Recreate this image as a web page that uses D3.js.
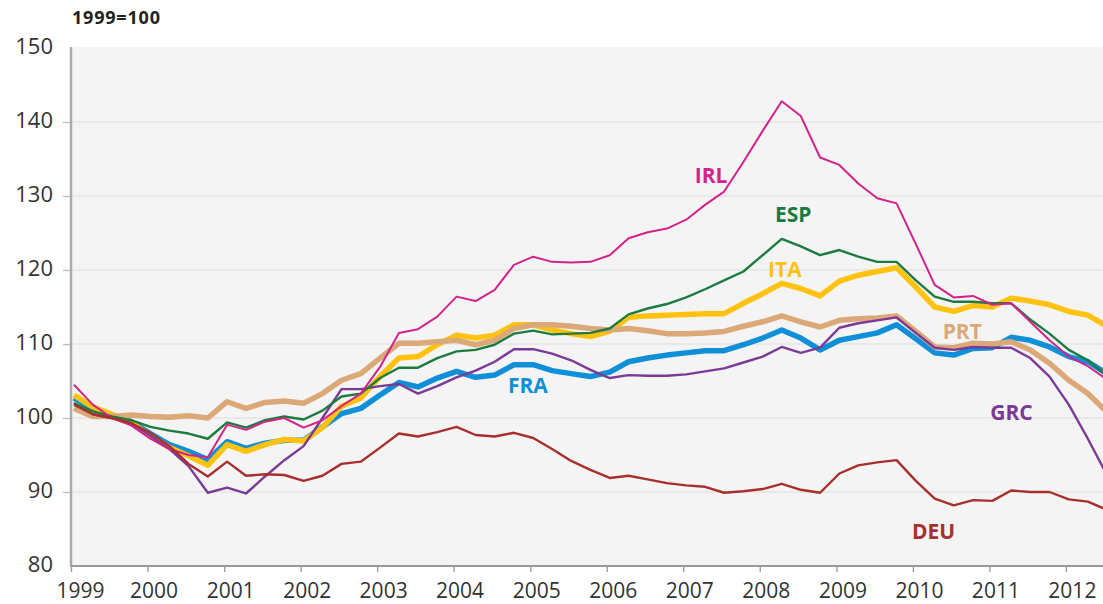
<!DOCTYPE html>
<html>
<head>
<meta charset="utf-8">
<script src="https://cdn.jsdelivr.net/npm/d3@7"></script>
<style>
  body { margin: 0; background: #fff; }
  svg { display: block; }
  svg text { font-family: "Open Sans", "DejaVu Sans", sans-serif; }
  .tick text { fill: #333; }
</style>
</head>
<body>
<div id="chart"></div>
<script>
var width = 1103;
var height = 604;

// quarterly observations, 1999Q1 .. 2012Q3
var quarters = d3.range(55).map(function (i) {
    return new Date(1999 + Math.floor(i / 4), (i % 4) * 3, 15);
});

var countries = ["FRA", "ITA", "PRT", "GRC", "ESP", "IRL", "DEU"];

var IRL = [104.5, 101.8, 100.0, 99.0, 97.2, 95.8, 95.0, 94.7, 99.1, 98.4, 99.5, 100.0, 98.7, 99.7,
    101.6, 103.3, 106.9, 111.5, 112.0, 113.7, 116.4, 115.8, 117.3, 120.7, 121.8, 121.1, 121.0, 121.1,
    122.0, 124.3, 125.1, 125.6, 126.8, 128.8, 130.6, 134.6, 138.8, 142.8, 140.8, 135.2, 134.2, 131.7,
    129.7, 129.0, 123.5, 118.0, 116.3, 116.5, 115.3, 115.5, 113.0, 110.5, 108.3, 107.0, 105.2];
var ESP = [102.0, 100.9, 100.2, 99.7, 98.8, 98.3, 97.9, 97.2, 99.4, 98.7, 99.7, 100.2, 99.8, 101.0,
    102.9, 103.3, 105.4, 106.8, 106.8, 108.1, 109.0, 109.2, 109.9, 111.4, 111.8, 111.3, 111.4, 111.5,
    112.1, 114.0, 114.8, 115.4, 116.3, 117.4, 118.6, 119.8, 122.0, 124.2, 123.2, 122.0, 122.7, 121.8,
    121.1, 121.1, 118.6, 116.4, 115.7, 115.7, 115.5, 115.5, 113.3, 111.4, 109.2, 107.8, 105.7];
var ITA = [103.1, 101.5, 100.5, 99.4, 97.6, 96.0, 94.9, 93.6, 96.4, 95.5, 96.4, 97.1, 96.9, 98.7,
    101.6, 102.7, 105.6, 108.1, 108.3, 109.9, 111.2, 110.8, 111.2, 112.6, 112.6, 111.9, 111.4, 111.0,
    111.7, 113.6, 113.8, 113.9, 114.0, 114.1, 114.1, 115.5, 116.8, 118.2, 117.5, 116.5, 118.5, 119.3,
    119.8, 120.3, 117.7, 115.0, 114.4, 115.2, 115.0, 116.2, 115.8, 115.3, 114.4, 113.9, 112.4];
var PRT = [101.3, 100.2, 100.2, 100.4, 100.2, 100.1, 100.3, 100.0, 102.2, 101.3, 102.1, 102.3, 102.0, 103.3,
    105.1, 106.0, 108.1, 110.1, 110.1, 110.3, 110.5, 109.9, 110.5, 112.1, 112.6, 112.6, 112.4, 112.1,
    111.9, 112.1, 111.8, 111.4, 111.4, 111.5, 111.7, 112.4, 113.0, 113.8, 113.0, 112.3, 113.2, 113.4,
    113.5, 113.8, 111.7, 109.6, 109.5, 110.1, 110.0, 110.3, 109.2, 107.4, 105.1, 103.3, 100.8];
var FRA = [102.7, 101.3, 100.4, 99.5, 97.9, 96.4, 95.5, 94.4, 96.8, 95.9, 96.6, 97.0, 97.0, 98.8,
    100.6, 101.3, 103.1, 104.8, 104.2, 105.4, 106.3, 105.5, 105.8, 107.2, 107.2, 106.4, 106.0, 105.6,
    106.2, 107.6, 108.1, 108.5, 108.8, 109.1, 109.1, 109.9, 110.8, 111.9, 110.8, 109.2, 110.5, 111.0,
    111.5, 112.6, 110.7, 108.8, 108.5, 109.4, 109.5, 110.9, 110.5, 109.6, 108.3, 107.6, 106.0];
var GRC = [102.0, 100.5, 100.0, 99.3, 97.6, 95.8, 93.5, 89.9, 90.6, 89.8, 92.1, 94.3, 96.2, 100.0,
    103.9, 103.9, 104.3, 104.6, 103.3, 104.3, 105.5, 106.4, 107.6, 109.3, 109.3, 108.7, 107.8, 106.5,
    105.4, 105.8, 105.7, 105.7, 105.9, 106.3, 106.7, 107.5, 108.3, 109.6, 108.8, 109.5, 112.2, 112.8,
    113.2, 113.6, 111.5, 109.5, 109.2, 109.6, 109.5, 109.5, 108.1, 105.6, 101.8, 97.2, 92.3];
var DEU = [101.8, 100.5, 100.0, 99.3, 98.0, 96.2, 93.8, 92.1, 94.1, 92.2, 92.4, 92.3, 91.5, 92.2,
    93.8, 94.1, 96.0, 97.9, 97.5, 98.1, 98.8, 97.7, 97.5, 98.0, 97.3, 95.8, 94.2, 93.0,
    91.9, 92.2, 91.7, 91.2, 90.9, 90.7, 89.9, 90.1, 90.4, 91.1, 90.3, 89.9, 92.5, 93.6,
    94.0, 94.3, 91.5, 89.1, 88.2, 88.9, 88.8, 90.2, 90.0, 90.0, 89.0, 88.7, 87.6];

var seriesValues = { IRL: IRL, ESP: ESP, ITA: ITA, PRT: PRT, FRA: FRA, GRC: GRC, DEU: DEU };

var yTicks = [80, 90, 100, 110, 120, 130, 140, 150];
var xTickYears = d3.range(1999, 2013);

var colors = {
    IRL: "#d2238c", ESP: "#1d7b40", ITA: "#ffc20e", PRT: "#dba878",
    FRA: "#0f8fd8", GRC: "#7a3a96", DEU: "#a8302c"
};
var widths = { IRL: 2, ESP: 2.4, ITA: 5.5, PRT: 5.5, FRA: 5.5, GRC: 2.4, DEU: 2.4 };

// where each country name sits (data space)
var labelPos = [
    { name: "IRL", year: 2007.15, value: 131.8 },
    { name: "ESP", year: 2008.2, value: 126.5 },
    { name: "ITA", year: 2008.11, value: 119.05 },
    { name: "PRT", year: 2010.39, value: 110.7 },
    { name: "FRA", year: 2004.71, value: 103.4 },
    { name: "GRC", year: 2011.01, value: 99.7 },
    { name: "DEU", year: 2009.99, value: 83.65 }
];

var plotLeft = 71, plotRight = 1103, plotTop = 48, plotBottom = 566;

var x = d3.scaleTime()
    .domain([new Date(1999, 0, 1), new Date(2013, 0, 1)])
    .range([plotLeft, plotLeft + 14 * 76.54]);

var y = d3.scaleLinear()
    .domain([80, 150])
    .range([plotBottom, plotTop]);

function yearToDate(yr) {
    var whole = Math.floor(yr);
    return new Date(whole, 0, 1 + Math.round((yr - whole) * 365));
}

var svg = d3.select("#chart")
    .append("svg")
    .attr("width", width)
    .attr("height", height);

svg.append("defs").append("clipPath")
    .attr("id", "plotclip")
    .append("rect")
    .attr("x", plotLeft + 1)
    .attr("y", plotTop - 10)
    .attr("width", plotRight - plotLeft)
    .attr("height", plotBottom - plotTop + 20);

// plot background
svg.append("rect")
    .attr("x", plotLeft)
    .attr("y", plotTop - 1)
    .attr("width", plotRight - plotLeft)
    .attr("height", plotBottom - plotTop + 1)
    .style("fill", "#f4f4f4");

// gridlines
svg.append("g")
    .selectAll("line")
    .data(yTicks.filter(function (d) { return d > 80 && d < 150; }))
    .enter()
    .append("line")
    .attr("x1", plotLeft)
    .attr("x2", plotRight)
    .attr("y1", function (d) { return y(d); })
    .attr("y2", function (d) { return y(d); })
    .style("stroke", "#e4e4e4")
    .style("stroke-width", 1.3);

// y axis
var yAxis = d3.axisLeft(y)
    .tickValues(yTicks)
    .tickSize(8)
    .tickPadding(10);

var gy = svg.append("g")
    .attr("transform", "translate(" + plotLeft + ",0)")
    .call(yAxis);
gy.select(".domain").remove();
gy.selectAll(".tick line")
    .style("stroke", "#bbb")
    .style("stroke-width", 1.3)
    .style("display", function (d) { return (d == 80 || d == 150) ? "none" : null; });
gy.selectAll(".tick text")
    .style("font-size", "22px")
    .attr("dy", "0.26em");

// x axis
var xAxis = d3.axisBottom(x)
    .tickValues(xTickYears.map(function (yr) { return new Date(yr, 0, 1); }))
    .tickFormat(d3.timeFormat("%Y"))
    .tickSize(6)
    .tickPadding(11);

var gx = svg.append("g")
    .attr("transform", "translate(0," + plotBottom + ")")
    .call(xAxis);
gx.select(".domain").remove();
gx.selectAll(".tick line")
    .style("stroke", "#999")
    .style("stroke-width", 1.3);
gx.selectAll(".tick text")
    .style("font-size", "21px")
    .attr("dx", function (d) { return d.getFullYear() == 1999 ? 9 : 6; });

// axis lines
svg.append("line")
    .attr("x1", plotLeft).attr("x2", plotLeft)
    .attr("y1", plotTop - 1).attr("y2", plotBottom + 1)
    .style("stroke", "#aaa")
    .style("stroke-width", 2.5);
svg.append("line")
    .attr("x1", plotLeft).attr("x2", plotRight)
    .attr("y1", plotBottom).attr("y2", plotBottom)
    .style("stroke", "#999")
    .style("stroke-width", 2);

// lines
var line = d3.line()
    .x(function (d, i) { return x(quarters[i]); })
    .y(function (d) { return y(d); });

svg.append("g")
    .attr("clip-path", "url(#plotclip)")
    .selectAll("path")
    .data(countries)
    .enter()
    .append("path")
    .attr("d", function (c) { return line(seriesValues[c]); })
    .style("fill", "none")
    .style("stroke", function (c) { return colors[c]; })
    .style("stroke-width", function (c) { return widths[c]; })
    .style("stroke-linejoin", "round");

// country labels
svg.append("g")
    .selectAll("text")
    .data(labelPos)
    .enter()
    .append("text")
    .attr("x", function (d) { return x(yearToDate(d.year)); })
    .attr("y", function (d) { return y(d.value); })
    .style("fill", function (d) { return colors[d.name]; })
    .style("font-size", "21px")
    .style("font-weight", "bold")
    .text(function (d) { return d.name; });

// unit note
svg.append("text")
    .attr("x", plotLeft + 1)
    .attr("y", 24)
    .style("font-size", "18px")
    .style("font-weight", "bold")
    .style("fill", "#222")
    .style("letter-spacing", "0.8px")
    .text("1999=100");
</script>
</body>
</html>
